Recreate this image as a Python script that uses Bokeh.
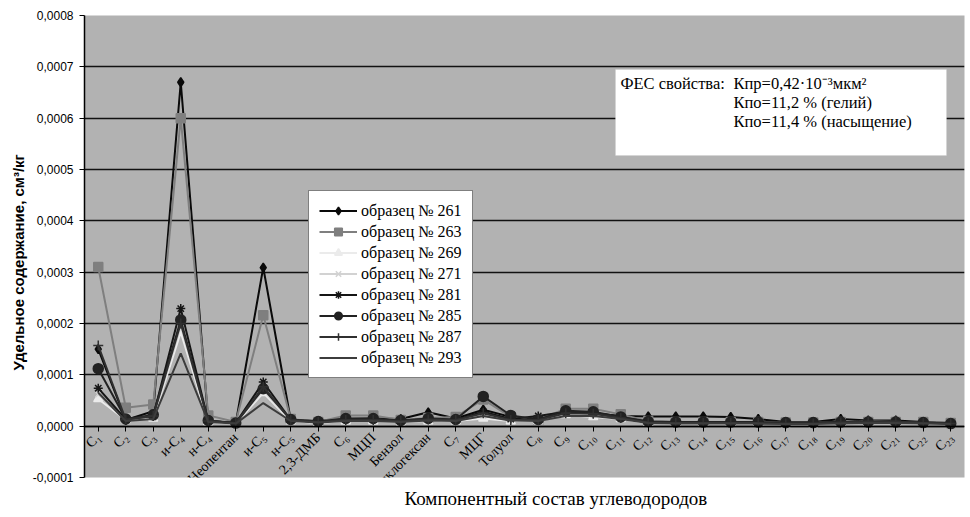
import math
from bokeh.plotting import figure
from bokeh.models import (FactorRange, Range1d, FixedTicker, Legend, LegendItem,
                          Label, BoxAnnotation, Title)
from bokeh.embed import file_html
from bokeh.resources import INLINE

categories = ["C₁", "C₂", "C₃", "и-C₄", "н-C₄", "Неопентан", "и-C₅", "н-C₅",
              "2,3-ДМБ", "C₆", "МЦП", "Бензол", "Циклогексан", "C₇", "МЦГ", "Толуол",
              "C₈", "C₉", "C₁₀", "C₁₁", "C₁₂", "C₁₃", "C₁₄", "C₁₅", "C₁₆", "C₁₇",
              "C₁₈", "C₁₉", "C₂₀", "C₂₁", "C₂₂", "C₂₃"]

s261 = [1.50e-4, 1.2e-5, 2.9e-5, 6.70e-4, 1.0e-5, 6e-6, 3.09e-4, 1.2e-5, 1.0e-5, 1.4e-5, 1.5e-5, 1.4e-5,
        2.7e-5, 1.5e-5, 3.2e-5, 1.8e-5, 1.4e-5, 2.6e-5, 2.5e-5, 2.0e-5, 1.9e-5, 1.9e-5, 1.9e-5, 1.8e-5,
        1.4e-5, 8e-6, 8e-6, 1.4e-5, 1.1e-5, 1.1e-5, 8e-6, 6e-6]
s263 = [3.10e-4, 3.6e-5, 4.2e-5, 6.00e-4, 2.1e-5, 8e-6, 2.16e-4, 1.4e-5, 8e-6, 2.1e-5, 2.1e-5, 1.2e-5,
        1.6e-5, 1.8e-5, 5.2e-5, 1.8e-5, 1.2e-5, 3.4e-5, 3.4e-5, 2.3e-5, 1.0e-5, 8e-6, 8e-6, 8e-6,
        8e-6, 7e-6, 7e-6, 8e-6, 8e-6, 8e-6, 8e-6, 6e-6]
s269 = [5.3e-5, 1.2e-5, 1.5e-5, 1.83e-4, 8e-6, 5e-6, 6.5e-5, 1.0e-5, 6e-6, 1.0e-5, 1.0e-5, 8e-6,
        1.0e-5, 1.0e-5, 1.5e-5, 1.0e-5, 1.0e-5, 2.2e-5, 1.8e-5, 1.4e-5, 6e-6, 5e-6, 5e-6, 5e-6,
        5e-6, 4e-6, 4e-6, 5e-6, 6e-6, 6e-6, 5e-6, 4e-6]
s271 = [6.2e-5, 1.2e-5, 1.6e-5, 1.95e-4, 9e-6, 5e-6, 7.0e-5, 1.1e-5, 7e-6, 1.1e-5, 1.1e-5, 9e-6,
        1.2e-5, 1.1e-5, 2.0e-5, 1.2e-5, 1.2e-5, 2.4e-5, 2.2e-5, 1.6e-5, 7e-6, 6e-6, 6e-6, 6e-6,
        6e-6, 5e-6, 5e-6, 7e-6, 9e-6, 8e-6, 6e-6, 4e-6]
s281 = [7.4e-5, 1.3e-5, 2.0e-5, 2.29e-4, 1.0e-5, 6e-6, 8.6e-5, 1.2e-5, 8e-6, 1.3e-5, 1.3e-5, 1.0e-5,
        1.4e-5, 1.2e-5, 2.8e-5, 1.4e-5, 2.0e-5, 2.8e-5, 2.6e-5, 1.8e-5, 8e-6, 7e-6, 7e-6, 7e-6,
        7e-6, 6e-6, 6e-6, 8e-6, 8e-6, 8e-6, 7e-6, 5e-6]
s285 = [1.12e-4, 1.4e-5, 2.2e-5, 2.07e-4, 1.1e-5, 6e-6, 7.3e-5, 1.3e-5, 9e-6, 1.5e-5, 1.5e-5, 1.1e-5,
        1.5e-5, 1.3e-5, 5.8e-5, 2.1e-5, 1.3e-5, 3.0e-5, 2.8e-5, 1.8e-5, 9e-6, 8e-6, 8e-6, 8e-6,
        8e-6, 7e-6, 7e-6, 8e-6, 8e-6, 8e-6, 7e-6, 5e-6]
s287 = [1.57e-4, 1.3e-5, 2.0e-5, 2.00e-4, 1.0e-5, 6e-6, 7.7e-5, 1.2e-5, 8e-6, 1.2e-5, 1.2e-5, 1.0e-5,
        1.3e-5, 1.2e-5, 2.5e-5, 1.2e-5, 1.2e-5, 2.5e-5, 2.4e-5, 1.6e-5, 7e-6, 6e-6, 6e-6, 6e-6,
        6e-6, 5e-6, 5e-6, 7e-6, 9e-6, 9e-6, 6e-6, 5e-6]
s293 = [6.5e-5, 1.0e-5, 1.4e-5, 1.42e-4, 8e-6, 5e-6, 4.5e-5, 1.0e-5, 7e-6, 1.0e-5, 1.0e-5, 8e-6,
        1.1e-5, 1.0e-5, 2.0e-5, 1.1e-5, 1.0e-5, 2.0e-5, 2.0e-5, 1.4e-5, 6e-6, 5e-6, 5e-6, 5e-6,
        5e-6, 4e-6, 4e-6, 5e-6, 6e-6, 6e-6, 5e-6, 4e-6]

series_names = ["образец № 261", "образец № 263", "образец № 269", "образец № 271",
                "образец № 281", "образец № 285", "образец № 287", "образец № 293"]

y_ticks = [-0.0001, 0.0, 0.0001, 0.0002, 0.0003, 0.0004, 0.0005, 0.0006, 0.0007, 0.0008]
y_tick_labels = ["-0,0001", "0,0000", "0,0001", "0,0002", "0,0003", "0,0004",
                 "0,0005", "0,0006", "0,0007", "0,0008"]

x_title = "Компонентный состав углеводородов"
y_title = "Удельное содержание, см³/кг"
note_head = "ФЕС свойства:"
note_lines = "Кпр=0,42·10⁻³мкм²\nКпо=11,2 % (гелий)\nКпо=11,4 % (насыщение)"

series_data = [s261, s263, s269, s271, s281, s285, s287, s293]
colors = ["#0a0a0a", "#7f7f7f", "#ebebeb", "#d2d2d2", "#151515", "#222222", "#303030", "#3c3c3c"]
markers = ["diamond", "square", "triangle", "x", "asterisk", "circle", "cross", None]
msizes = [9, 9, 9, 8, 9, 10, 10, 0]

SERIF = "Liberation Serif"
SANS = "Liberation Sans"

p = figure(width=966, height=517, x_range=FactorRange(*categories, range_padding=0),
           y_range=Range1d(-0.0001, 0.0008), output_backend="svg", toolbar_location=None,
           min_border_left=84, min_border_right=2, min_border_top=15, min_border_bottom=40)

p.background_fill_color = "#b2b2b2"
p.border_fill_color = "white"
p.outline_line_color = None

p.xgrid.visible = False
p.ygrid.grid_line_color = "#111111"
p.ygrid.grid_line_width = 1.5
p.ygrid.ticker = FixedTicker(ticks=y_ticks)

p.yaxis.ticker = FixedTicker(ticks=y_ticks)
p.yaxis.major_label_overrides = {t: l for t, l in zip(y_ticks, y_tick_labels)}
p.yaxis.major_label_text_font = SANS
p.yaxis.major_label_text_font_size = "12px"
p.yaxis.major_label_text_color = "black"
p.yaxis.major_tick_in = 0
p.yaxis.major_tick_out = 5
p.yaxis.minor_tick_line_color = None
p.yaxis.axis_line_color = "black"
p.yaxis.axis_line_width = 1.5
p.yaxis.major_label_standoff = 6

p.add_layout(Title(text=y_title, align="left", offset=107, text_font=SANS,
                   text_font_size="15px", text_font_style="bold", text_color="black",
                   standoff=6), "left")

p.xaxis.fixed_location = 0
p.xaxis.major_label_orientation = math.pi / 4
p.xaxis.major_label_text_font = SERIF
p.xaxis.major_label_text_font_size = "14px"
p.xaxis.major_label_text_color = "black"
p.xaxis.major_tick_in = 0
p.xaxis.major_tick_out = 5
p.xaxis.axis_line_color = "black"
p.xaxis.axis_line_width = 1.5
p.xaxis.major_label_standoff = 4

p.add_layout(Title(text=x_title, align="left", offset=320, text_font=SERIF, text_font_size="19px",
                   text_font_style="normal", text_color="black", standoff=17), "below")

items = []
for name, data, col, mk, ms in zip(series_names, series_data, colors, markers, msizes):
    rs = [p.line(categories, data, line_color=col, line_width=2)]
    if mk is not None:
        rs.append(p.scatter(categories, data, marker=mk, size=ms, fill_color=col,
                            line_color=col, line_width=1.5))
    items.append(LegendItem(label=name, renderers=rs))

legend = Legend(items=items, location=(224, 99), background_fill_color="white",
                background_fill_alpha=1.0, border_line_color="black", border_line_width=1,
                label_text_font=SERIF, label_text_font_size="16px", label_text_color="black",
                glyph_width=38, glyph_height=19, label_height=19, label_width=90, spacing=2,
                padding=10, margin=0, label_standoff=4)
p.add_layout(legend, "center")

box = BoxAnnotation(left=531, right=862, top=408, bottom=322, left_units="screen",
                    right_units="screen", top_units="screen", bottom_units="screen",
                    fill_color="white", fill_alpha=1.0, line_color="#cccccc", line_width=1)
p.add_layout(box)
p.add_layout(Label(x=536, y=404, x_units="screen", y_units="screen", text=note_head,
                   text_font=SERIF, text_font_size="16.5px", text_baseline="top", text_color="black"))
p.add_layout(Label(x=649, y=404, x_units="screen", y_units="screen", text=note_lines,
                   text_font=SERIF, text_font_size="16.5px", text_baseline="top", text_color="black",
                   text_line_height=1.0))

open("out.html", "w").write(file_html(p, INLINE))
